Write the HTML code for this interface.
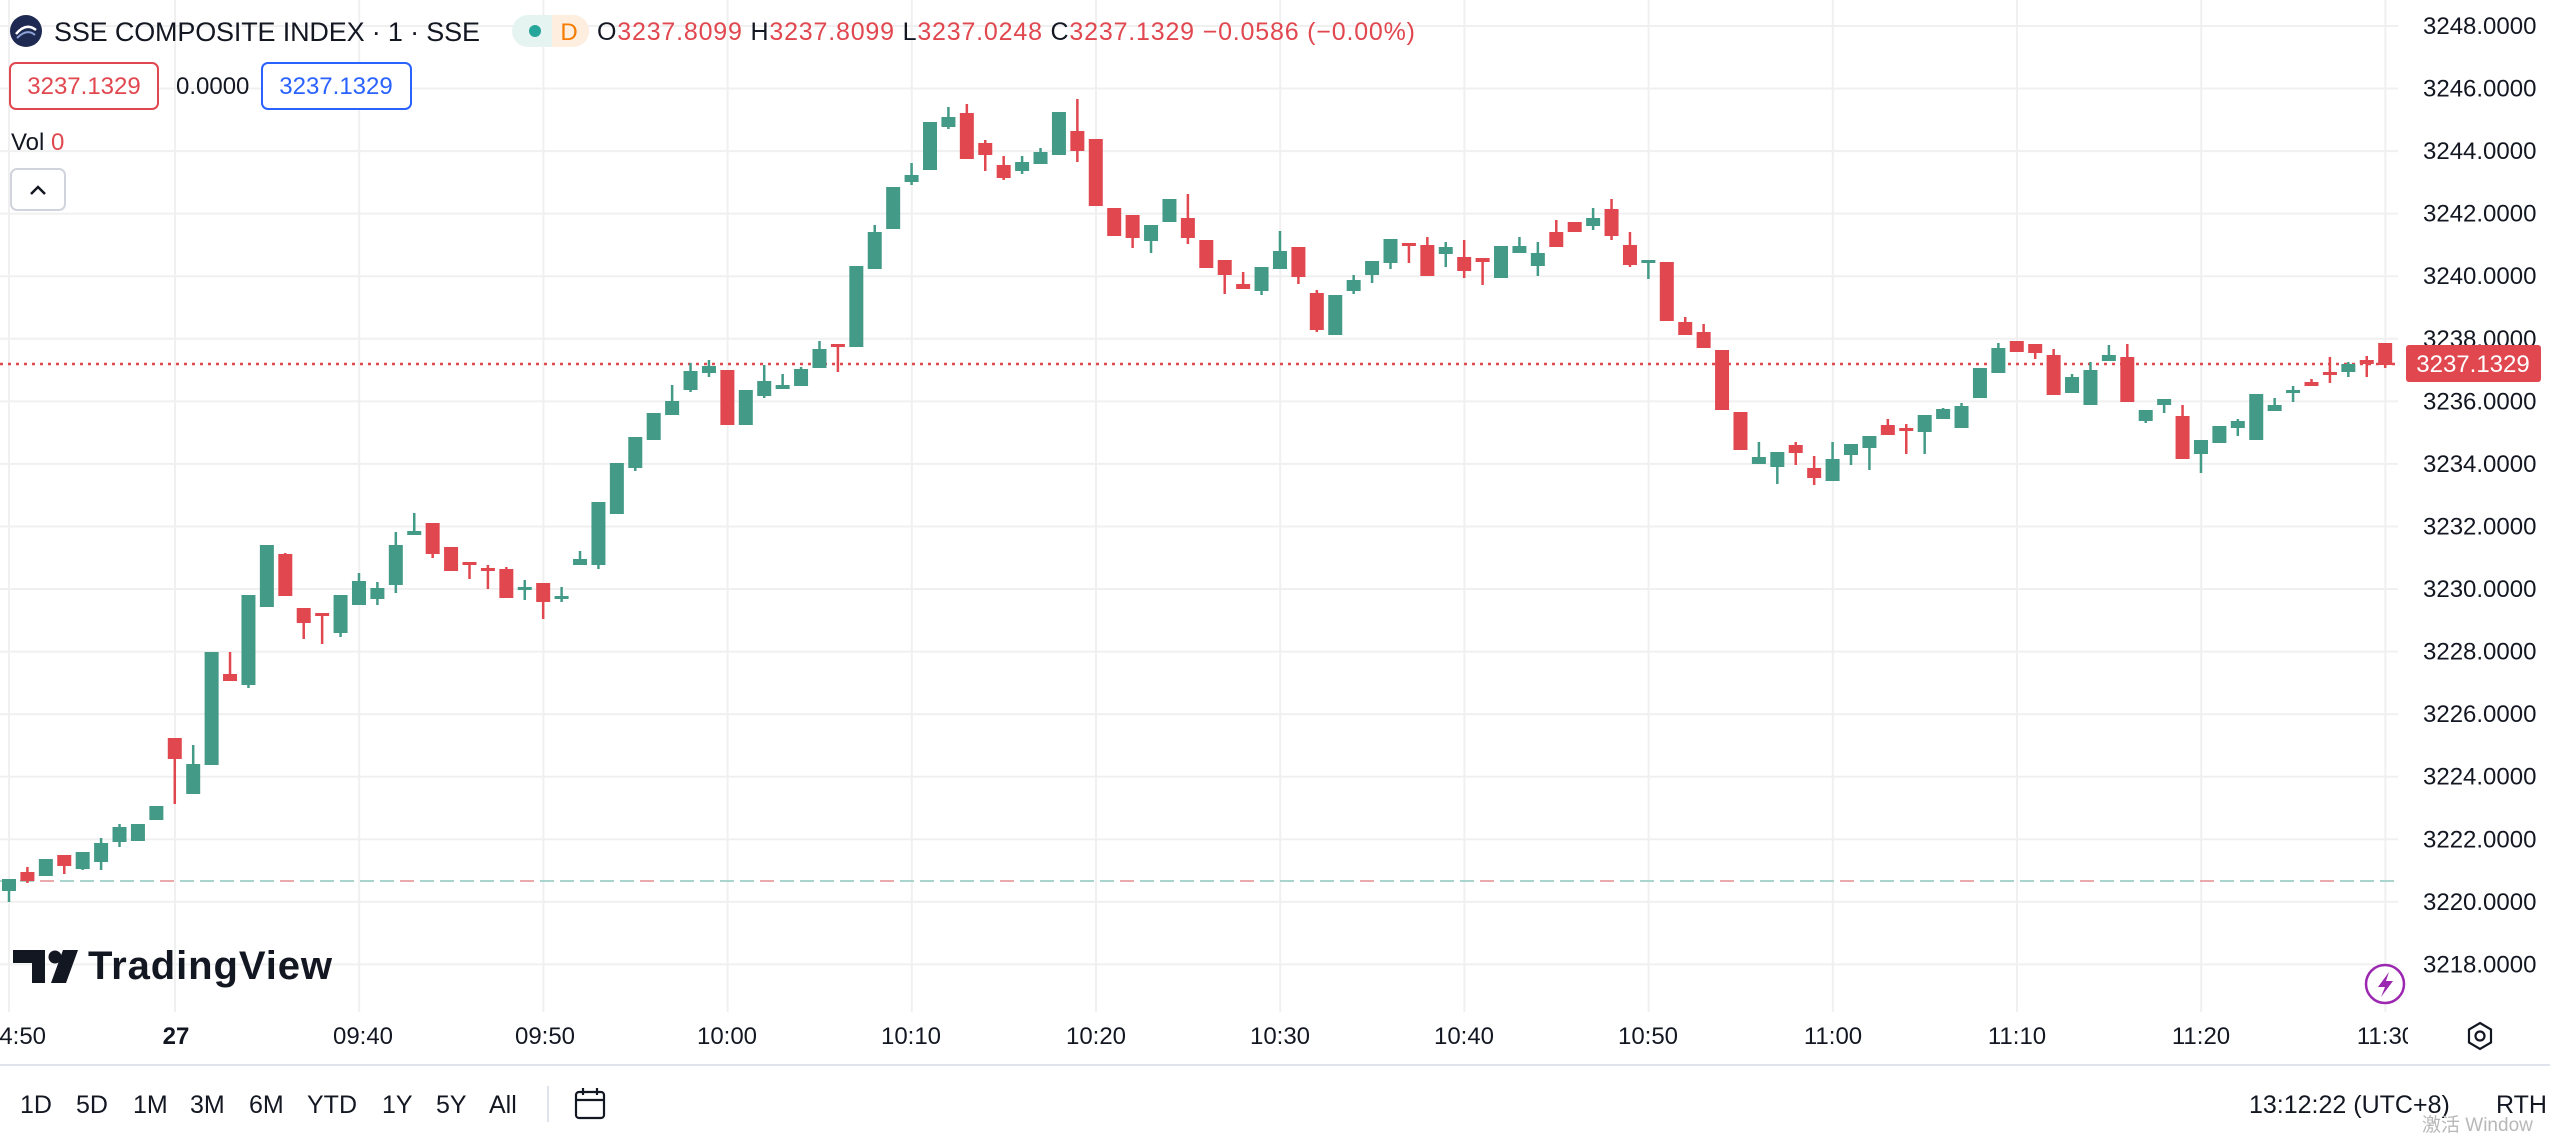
<!DOCTYPE html>
<html><head><meta charset="utf-8">
<style>
html,body{margin:0;padding:0;background:#fff;width:2550px;height:1140px;overflow:hidden;font-family:"Liberation Sans","Noto Sans CJK SC",sans-serif;}
svg{position:absolute;left:0;top:0}
</style></head>
<body>
<svg id="s" width="2550" height="1140" xmlns="http://www.w3.org/2000/svg" font-family="Liberation Sans, sans-serif">
<defs><clipPath id="pc"><rect x="0" y="0" width="2398" height="1012"/></clipPath>
<clipPath id="tc"><rect x="0" y="1012" width="2408" height="50"/></clipPath></defs>
<g id="grid" stroke="#f0f0f0" stroke-width="2"></g>
<g clip-path="url(#pc)">
<line x1="0" y1="881" x2="2398" y2="881" stroke="#a8d5cd" stroke-width="2" stroke-dasharray="14 6"/>
<line x1="0" y1="881" x2="2398" y2="881" stroke="#eaa9ab" stroke-width="2" stroke-dasharray="14 106" stroke-dashoffset="-40"/>
<line x1="0" y1="364" x2="2398" y2="364" stroke="#e1474f" stroke-width="2.5" stroke-dasharray="3 5"/>
<g id="candles"></g>
</g>
<g id="plabels" font-size="24" fill="#131722"></g>
<rect x="2406" y="345" width="135" height="37" rx="3" fill="#e1474f"/>
<text x="2473" y="372" font-size="24" fill="#fff" text-anchor="middle">3237.1329</text>
<line x1="0" y1="1065" x2="2550" y2="1065" stroke="#e0e3eb" stroke-width="2"/>
<g clip-path="url(#tc)" font-size="24" fill="#131722" text-anchor="middle">
<text x="16" y="1044">14:50</text>
<text x="176" y="1044" font-weight="bold">27</text>
<text x="363" y="1044">09:40</text>
<text x="545" y="1044">09:50</text>
<text x="727" y="1044">10:00</text>
<text x="911" y="1044">10:10</text>
<text x="1096" y="1044">10:20</text>
<text x="1280" y="1044">10:30</text>
<text x="1464" y="1044">10:40</text>
<text x="1648" y="1044">10:50</text>
<text x="1833" y="1044">11:00</text>
<text x="2017" y="1044">11:10</text>
<text x="2201" y="1044">11:20</text>
<text x="2386" y="1044">11:30</text>
</g>
<g transform="translate(2480,1036)" fill="none" stroke="#131722" stroke-width="2.2">
<polygon points="0,-13 11,-6.5 11,6.5 0,13 -11,6.5 -11,-6.5"/><circle r="4.5"/></g>
<circle cx="2385" cy="984" r="19" fill="#fff" stroke="#9c27b0" stroke-width="2.5"/>
<path d="M2389 972 L2378 987 L2385 987 L2381 997 L2393 981 L2386 981 Z" fill="#9c27b0"/>
<circle cx="26" cy="31" r="16" fill="#1e2a52"/>
<path d="M16 34 Q26 22 36 30" stroke="#fff" stroke-width="2.5" fill="none"/>
<path d="M17 38 Q27 28 35 35" stroke="#8fa4d8" stroke-width="2" fill="none"/>
<text x="54" y="41" font-size="27" fill="#131722" textLength="426">SSE COMPOSITE INDEX · 1 · SSE</text>
<rect x="512" y="15" width="77" height="32" rx="16" fill="#e6f4f1"/>
<path d="M552 15 H573 A16 16 0 0 1 573 47 H552 Z" fill="#fdeee0"/>
<circle cx="535" cy="31" r="6" fill="#26a69a"/>
<text x="569" y="40" font-size="24" fill="#f57c00" text-anchor="middle">D</text>
<text x="597" y="40" font-size="25" fill="#e1474f" textLength="818"><tspan fill="#131722">O</tspan>3237.8099 <tspan fill="#131722">H</tspan>3237.8099 <tspan fill="#131722">L</tspan>3237.0248 <tspan fill="#131722">C</tspan>3237.1329 −0.0586 (−0.00%)</text>
<rect x="10" y="63" width="148" height="46" rx="6" fill="#fff" stroke="#e1474f" stroke-width="2"/>
<text x="84" y="94" font-size="24" fill="#e1474f" text-anchor="middle">3237.1329</text>
<text x="176" y="94" font-size="24" fill="#131722">0.0000</text>
<rect x="262" y="63" width="149" height="46" rx="6" fill="#fff" stroke="#2962ff" stroke-width="2"/>
<text x="336" y="94" font-size="24" fill="#2962ff" text-anchor="middle">3237.1329</text>
<text x="11" y="150" font-size="24" fill="#131722">Vol <tspan fill="#e1474f">0</tspan></text>
<rect x="11" y="169" width="54" height="41" rx="6" fill="#fff" stroke="#d1d4dc" stroke-width="2"/>
<path d="M31 194 L38 187 L45 194" stroke="#131722" stroke-width="2.5" fill="none"/>
<g fill="#131722">
<path d="M13 950 H45 V983 H32 V963 H13 Z"/>
<circle cx="55" cy="957" r="6.5"/>
<path d="M63 950 H78 L66 983 H51 Z"/>
<text x="88" y="979" font-size="40" font-weight="bold" textLength="244">TradingView</text>
</g>
<g font-size="25" fill="#131722">
<text x="20" y="1113">1D</text><text x="76" y="1113">5D</text><text x="133" y="1113">1M</text>
<text x="190" y="1113">3M</text><text x="249" y="1113">6M</text><text x="307" y="1113">YTD</text>
<text x="382" y="1113">1Y</text><text x="436" y="1113">5Y</text><text x="489" y="1113">All</text>
<text x="2249" y="1113">13:12:22 (UTC+8)</text><text x="2496" y="1113">RTH</text>
</g>
<line x1="548" y1="1086" x2="548" y2="1122" stroke="#e0e3eb" stroke-width="2"/>
<g transform="translate(574,1088)" fill="none" stroke="#131722" stroke-width="2.2">
<rect x="2" y="4" width="28" height="26" rx="3"/><line x1="2" y1="12" x2="30" y2="12"/>
<line x1="9" y1="0" x2="9" y2="7"/><line x1="23" y1="0" x2="23" y2="7"/></g>
<text x="2422" y="1131" font-size="19" fill="#b8b8b8">激活 Window</text>
</svg>
<script>
var NS="http://www.w3.org/2000/svg";
function el(t,a,p){var e=document.createElementNS(NS,t);for(var k in a)e.setAttribute(k,a[k]);p.appendChild(e);return e;}
var g=document.getElementById("grid"),pl=document.getElementById("plabels");
for(var p=3248;p>=3218;p-=2){var y=26+(3248-p)*31.28;el("line",{x1:0,y1:y,x2:2398,y2:y},g);
var t=el("text",{x:2423,y:y+8},pl);t.textContent=p+".0000";}
var vx=[9];for(var k=0;k<13;k++)vx.push(175+184.2*k);
vx.forEach(function(x){el("line",{x1:x,y1:0,x2:x,y2:1012},g);});
var D=[
"G 879 891 879 902","R 872 881 867 883","G 859 876","R 855 866 855 874","G 852 869 852 870","G 843 862 838 870","G 827 842 824 847","G 824 841","G 806 820","R 738 759 738 804",
"G 764 794 745 794","G 652 765","R 674 681 652 681","G 595 685 595 688","G 545 607","R 554 596 553 596","R 608 623 608 639","R 613 616 613 644","G 595 633 595 637","G 581 605 573 605",
"G 588 599 582 605","G 545 585 532 593","G 531 535 513 535","R 523 554 523 558","R 547 571","R 562 565 562 579","R 568 571 565 589","R 569 598 567 598","G 587 590 580 600","R 583 602 583 619",
"G 596 599 587 602","G 559 565 551 565","G 502 565 502 569","G 463 514","G 437 468 437 471","G 413 440","G 401 415 385 415","G 371 390 363 392","G 366 373 360 377","R 370 425",
"G 390 425","G 381 396 365 398","G 385 389 374 389","G 369 386 367 386","G 349 368 341 368","R 344 347 344 372","G 266 347","G 232 269 225 269","G 187 229","G 175 182 163 185",
"G 122 170","G 117 127 107 129","R 113 159 104 159","R 143 155 140 171","R 165 178 156 180","G 162 171 156 174","G 152 164 148 164","G 112 155","R 131 151 99 162","R 139 206",
"R 208 236","R 215 238 215 248","G 225 241 225 253","G 199 222","R 218 238 194 244","R 240 268","R 260 275 260 294","R 284 289 272 289","G 267 291 267 295","G 251 269 231 269",
"R 247 277 247 284","R 293 330 290 332","G 295 335","G 280 291 275 294","G 261 275 261 283","G 239 263 239 269","R 243 246 243 263","R 245 276 237 276","G 247 254 242 267","R 257 271 240 278",
"R 258 262 258 285","G 246 278","G 246 253 237 253","G 253 266 242 276","R 232 247 220 247","R 222 232","G 218 226 208 230","R 209 236 199 240","R 245 265 232 267","G 260 263 260 279",
"R 262 321","R 322 335 317 335","R 332 348 324 348","R 350 410","R 412 450","G 457 464 442 464","G 452 467 452 484","R 445 453 442 465","R 468 478 456 485","G 459 481 442 481",
"G 444 455 444 465","G 436 448 436 470","R 425 435 419 435","R 428 429 424 454","G 415 432 415 454","G 409 419 408 419","G 406 428 403 428","G 368 398","G 348 373 343 373","R 341 352",
"R 344 353 344 359","R 355 395 349 395","G 377 393 374 393","G 370 405 362 405","G 355 361 345 361","R 357 402 344 402","G 410 421 410 423","G 399 405 399 413","R 416 459 405 459","G 440 454 440 473",
"G 426 443","G 421 428 419 436","G 394 440","G 405 411 398 411","G 390 392 386 402","R 382 386 379 386","R 372 375 357 383","G 364 372 362 377","R 360 364 356 377","R 343 365 343 368"];
var cg=document.getElementById("candles");
D.forEach(function(s,i){var a=s.split(" ");var c=a[0]=="G"?"#439a87":"#e1474f";
var bt=+a[1],bb=+a[2],wt=a[3]?+a[3]:bt,wb=a[4]?+a[4]:bb;if(bb-bt<3)bb=bt+3;
var x=9+18.42*i;
el("rect",{x:x-1.25,y:wt,width:2.5,height:wb-wt,fill:c},cg);
el("rect",{x:x-7,y:bt,width:14,height:bb-bt,fill:c},cg);});
</script>
</body></html>
